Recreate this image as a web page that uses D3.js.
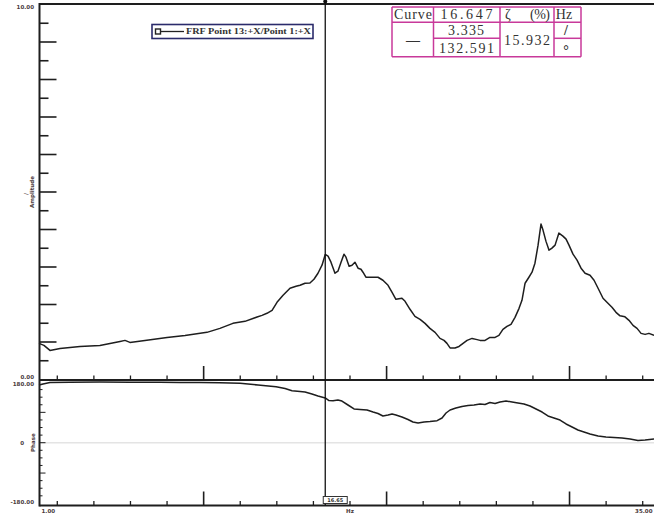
<!DOCTYPE html>
<html><head><meta charset="utf-8">
<script src="https://cdn.jsdelivr.net/npm/d3@7"></script>
<style>html,body{margin:0;padding:0;background:#fff;overflow:hidden}</style>
</head><body>
<svg id="chart" width="654" height="516"></svg>
<script>
// FRF amplitude (top pane) sampled along frequency, Hz
const ampFreq = [1.00,1.27,1.60,2.15,3.24,4.33,5.43,5.70,5.97,6.79,8.00,8.98,10.18,10.89,11.60,12.26,12.92,13.19,13.46,13.74,14.01,14.34,14.72,15.05,15.27,15.54,15.81,16.03,16.25,16.47,16.647,16.80,16.96,17.18,17.34,17.51,17.67,17.78,17.95,18.11,18.27,18.44,18.60,18.71,18.87,19.20,19.53,19.80,20.08,20.30,20.51,20.84,21.01,21.28,21.55,21.83,22.10,22.37,22.65,22.92,23.14,23.30,23.47,23.74,23.96,24.18,24.40,24.67,24.89,25.11,25.38,25.65,25.93,26.14,26.36,26.58,26.80,27.02,27.24,27.40,27.57,27.78,27.95,28.11,28.28,28.44,28.55,28.71,28.88,29.04,29.21,29.42,29.64,29.81,29.97,30.19,30.41,30.63,30.85,31.12,31.34,31.56,31.83,32.10,32.32,32.54,32.76,33.03,33.25,33.47,33.69,33.91,34.13,34.34,34.62];
const ampValues = [0.963,0.909,0.775,0.829,0.882,0.909,1.016,1.043,0.989,1.043,1.123,1.176,1.257,1.364,1.497,1.551,1.666,1.711,1.765,1.845,2.059,2.246,2.433,2.487,2.513,2.567,2.575,2.674,2.834,3.048,3.335,3.289,3.128,2.834,2.888,3.128,3.342,3.262,3.021,3.048,3.128,2.968,2.941,2.861,2.727,2.727,2.727,2.647,2.513,2.326,2.139,2.166,2.086,1.872,1.684,1.604,1.497,1.364,1.257,1.096,1.043,0.963,0.842,0.842,0.882,0.963,1.043,1.096,1.070,1.043,1.043,1.123,1.123,1.176,1.337,1.417,1.471,1.658,1.898,2.112,2.567,2.727,2.861,3.102,3.583,4.144,3.984,3.690,3.449,3.503,3.583,3.904,3.824,3.743,3.583,3.342,3.182,2.968,2.834,2.781,2.647,2.433,2.166,2.032,1.925,1.791,1.698,1.671,1.578,1.444,1.364,1.230,1.203,1.230,1.176];

// FRF phase (bottom pane), degrees
const phaseFreq = [1.00,1.22,1.60,2.69,4.33,5.97,7.61,8.71,9.80,10.89,11.99,12.97,13.96,14.45,14.83,15.27,15.54,15.92,16.25,16.647,16.85,17.07,17.34,17.56,17.89,18.22,18.55,18.93,19.26,19.53,19.80,20.08,20.30,20.51,20.84,21.17,21.44,21.72,22.05,22.37,22.76,23.03,23.25,23.47,23.79,24.12,24.45,24.78,25.11,25.38,25.65,25.93,26.20,26.53,26.86,27.18,27.51,27.84,28.17,28.50,28.82,29.15,29.48,29.81,30.14,30.46,30.79,31.12,31.56,31.99,32.43,32.87,33.31,33.74,34.13,34.62];
const phaseValues = [171.1,174.1,178.5,179.5,179.8,179.6,179.0,178.8,178.5,177.9,176.1,171.1,166.0,160.7,154.2,151.8,150.3,144.4,138.5,132.591,125.1,124.5,126.6,123.6,111.8,100.0,98.4,97.0,91.0,86.6,79.2,82.1,85.1,82.1,76.2,68.8,61.4,58.4,61.4,62.9,65.2,73.2,88.1,97.0,102.9,107.3,110.3,111.8,114.8,113.3,119.2,116.2,120.7,123.6,120.7,117.7,114.8,108.8,99.9,91.0,79.2,73.2,67.3,55.5,46.6,37.7,31.7,25.8,19.9,16.9,15.4,13.9,11.0,6.5,8.0,11.0];

// axis ticks and labels
const xTicks = [2,4,6,8,10,12,14,16,18,20,22,24,26,28,30,32,34];
const xMajorTicks = [10,20,30];
const xDomain = [1, 35];
const xEndLabels = ["1.00", "35.00"];
const ampDomain = [0, 10];
const ampTickLabels = ["10.00", "0.00"];
const phaseDomain = [-180, 180];
const phaseTickLabels = ["180.00", "0", "-180.00"];

// cursor readout
const cursorFreq = 16.647;
const cursorAmp = 3.335;
const cursorPhase = 132.591;
const cursorDamping = 15.932;
const legendLabel = "FRF Point 13:+X/Point 1:+X";

const W = 654, H = 516;
const svg = d3.select("#chart");
const ink = "#1e1e1e";

const x = d3.scaleLinear().domain(xDomain).range([39, 661]);
const yA = d3.scaleLinear().domain(ampDomain).range([379.5, 4.5]);
const yP = d3.scaleLinear().domain(phaseDomain).range([503.4, 382]);
const ampBase = 380, phaseBase = 505.5, left = 39.5;

// faint zero-phase reference line
svg.append("line").attr("x1", left).attr("x2", W).attr("y1", yP(0)).attr("y2", yP(0))
  .attr("stroke", "#e4e4e4").attr("stroke-width", 1.5);

// curves
const ampLine = d3.line().x((d, i) => x(ampFreq[i])).y(d => yA(d));
svg.append("path").datum(ampValues).attr("d", ampLine)
  .attr("fill", "none").attr("stroke", ink).attr("stroke-width", 1.5).attr("stroke-linejoin", "round");
const phLine = d3.line().x((d, i) => x(phaseFreq[i])).y(d => yP(d));
svg.append("path").datum(phaseValues).attr("d", phLine)
  .attr("fill", "none").attr("stroke", ink).attr("stroke-width", 1.5).attr("stroke-linejoin", "round");

// frame lines
const frame = svg.append("g").attr("stroke", ink).attr("stroke-width", 2);
frame.append("line").attr("x1", left).attr("x2", W).attr("y1", 4).attr("y2", 4);
frame.append("line").attr("x1", left).attr("x2", W).attr("y1", ampBase).attr("y2", ampBase);
frame.append("line").attr("x1", left).attr("x2", W).attr("y1", phaseBase).attr("y2", phaseBase);
frame.append("line").attr("x1", left).attr("x2", left).attr("y1", 3).attr("y2", phaseBase + 1);

// amplitude ticks: every 0.5, long on whole units
const aTicks = d3.range(0.5, 10, 0.5);
svg.append("g").selectAll("line").data(aTicks).join("line")
  .attr("x1", left).attr("x2", d => left + (d % 1 === 0 ? 17 : 9))
  .attr("y1", d => yA(d)).attr("y2", d => yA(d))
  .attr("stroke", ink).attr("stroke-width", 1.6);

// phase ticks: every 22.5 degrees
const pTicks = d3.range(-157.5, 180, 22.5);
svg.append("g").selectAll("line").data(pTicks).join("line")
  .attr("x1", left).attr("x2", d => left + (d % 90 === 0 ? 6 : 3))
  .attr("y1", d => yP(d)).attr("y2", d => yP(d))
  .attr("stroke", ink).attr("stroke-width", 1);

// frequency ticks on both panes
[ampBase, phaseBase].forEach(base => {
  svg.append("g").selectAll("line").data(xTicks).join("line")
    .attr("x1", d => x(d)).attr("x2", d => x(d))
    .attr("y1", base).attr("y2", d => base - (xMajorTicks.includes(d) ? 14 : 4.5))
    .attr("stroke", ink).attr("stroke-width", d => xMajorTicks.includes(d) ? 1.6 : 1.3);
});

// tick labels
const lab = svg.append("g").attr("font-family", "DejaVu Sans, sans-serif")
  .attr("font-size", 5.5).attr("font-weight", "bold").attr("fill", "#4a3a3c");
lab.append("text").attr("x", 34).attr("y", yA(10) + 4).attr("text-anchor", "end").text(ampTickLabels[0]);
lab.append("text").attr("x", 34).attr("y", yA(0) - 1).attr("text-anchor", "end").text(ampTickLabels[1]);
lab.append("text").attr("x", 34).attr("y", yP(180) + 3.5).attr("text-anchor", "end").text(phaseTickLabels[0]);
lab.append("text").attr("x", 24).attr("y", yP(0) + 2).attr("text-anchor", "end").text(phaseTickLabels[1]);
lab.append("text").attr("x", 34).attr("y", yP(-180) + 1).attr("text-anchor", "end").text(phaseTickLabels[2]);
lab.append("text").attr("x", x(1) + 2.5).attr("y", 513).text(xEndLabels[0]);
lab.append("text").attr("x", W - 1.5).attr("y", 513).attr("text-anchor", "end").text(xEndLabels[1]);
lab.append("text").attr("x", x(18)).attr("y", 513).attr("text-anchor", "middle").text("Hz");

// axis titles
lab.append("text").attr("transform", `translate(34,${yA(5)}) rotate(-90)`)
  .attr("text-anchor", "middle").text("Amplitude");
lab.append("text").attr("transform", `translate(28,${yA(5) + 2}) rotate(-90)`)
  .attr("text-anchor", "middle").text("/");
lab.append("text").attr("transform", `translate(35,${yP(0)}) rotate(-90)`)
  .attr("text-anchor", "middle").text("Phase");

// cursor
const cx = x(cursorFreq);
svg.append("line").attr("x1", cx).attr("x2", cx).attr("y1", 0).attr("y2", phaseBase)
  .attr("stroke", "#111").attr("stroke-width", 1.3);
svg.append("circle").attr("cx", cx).attr("cy", 1.5).attr("r", 2).attr("fill", "#111");
svg.append("rect").attr("x", cx - 2).attr("y", 496.5).attr("width", 24).attr("height", 7)
  .attr("fill", "#fff").attr("stroke", "#333").attr("stroke-width", 1);
svg.append("text").attr("x", cx + 10).attr("y", 502.3).attr("text-anchor", "middle")
  .attr("font-family", "DejaVu Sans, sans-serif").attr("font-size", 5).attr("font-weight", "bold")
  .attr("fill", "#333").text(d3.format(".2f")(cursorFreq));

// legend
const lg = svg.append("g");
lg.append("rect").attr("x", 152).attr("y", 24.5).attr("width", 161).attr("height", 14)
  .attr("fill", "#fff").attr("stroke", "#2b2b6b").attr("stroke-width", 1.6);
lg.append("rect").attr("x", 155.5).attr("y", 29).attr("width", 5).attr("height", 5)
  .attr("fill", "#fff").attr("stroke", "#222").attr("stroke-width", 1.4);
lg.append("line").attr("x1", 161).attr("x2", 184).attr("y1", 31.5).attr("y2", 31.5)
  .attr("stroke", "#222").attr("stroke-width", 1.3);
lg.append("text").attr("x", 186).attr("y", 34.3)
  .attr("font-family", "Liberation Serif, serif").attr("font-size", 7.5).attr("font-weight", "bold")
  .attr("fill", "#333").attr("textLength", 125).attr("lengthAdjust", "spacingAndGlyphs")
  .text(legendLabel);

// readout table
const tb = svg.append("g");
const colX = [392, 433.5, 500, 554, 581];
const rowY = [7, 22.3, 38.3, 56.7];
const pink = "#c8399a";
tb.append("rect").attr("x", colX[0]).attr("y", rowY[0]).attr("width", colX[4] - colX[0])
  .attr("height", rowY[3] - rowY[0]).attr("fill", "#fff");
const tl = tb.append("g").attr("stroke", pink).attr("stroke-width", 1.5);
[rowY[0], rowY[1], rowY[3]].forEach(y => tl.append("line").attr("x1", colX[0]).attr("x2", colX[4]).attr("y1", y).attr("y2", y));
colX.forEach(xx => tl.append("line").attr("x1", xx).attr("x2", xx).attr("y1", rowY[0]).attr("y2", rowY[3]));
[[1, 2], [3, 4]].forEach(([a, b]) => tl.append("line").attr("x1", colX[a]).attr("x2", colX[b]).attr("y1", rowY[2]).attr("y2", rowY[2]));

const cells = [
  { t: "Curve", x: 413, y: 19, w: 38 },
  { t: d3.format(".3f")(cursorFreq), x: 466.5, y: 19, w: 52 },
  { t: "ζ", x: 505, y: 19, anchor: "start" },
  { t: "(%)", x: 550, y: 19, anchor: "end", w: 20 },
  { t: "Hz", x: 564, y: 19 },
  { t: "—", x: 413, y: 44.5, w: 21, bold: true },
  { t: d3.format(".3f")(cursorAmp), x: 466, y: 35, w: 36 },
  { t: d3.format(".3f")(cursorPhase), x: 466.5, y: 53, w: 55 },
  { t: d3.format(".3f")(cursorDamping), x: 527, y: 44.5, w: 46 },
  { t: "/", x: 566, y: 35, bold: true },
  { t: "°", x: 566, y: 55, bold: true }
];
tb.selectAll("text.cell").data(cells).join("text").attr("class", "cell")
  .attr("x", d => d.x).attr("y", d => d.y)
  .attr("text-anchor", d => d.anchor || "middle")
  .attr("font-family", "Liberation Serif, serif").attr("font-size", 14).attr("fill", "#333")
  .attr("font-weight", d => d.bold ? "bold" : "normal")
  .each(function (d) { if (d.w) d3.select(this).attr("textLength", d.w).attr("lengthAdjust", "spacing"); })
  .text(d => d.t);
</script>
</body></html>
